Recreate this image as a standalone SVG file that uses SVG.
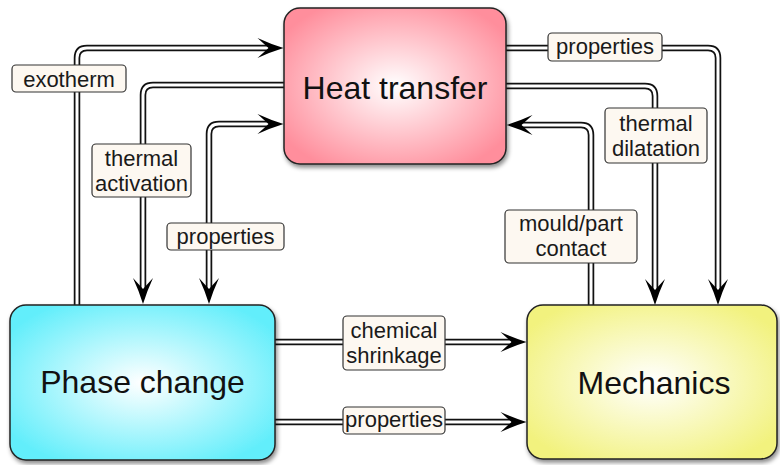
<svg xmlns="http://www.w3.org/2000/svg" width="780" height="465" viewBox="0 0 780 465">
<style>
.node rect{stroke:#222;stroke-width:1.5;filter:url(#sh)}
.node text{font-family:"Liberation Sans",Arial,Helvetica,sans-serif;font-size:32px;fill:#111;text-anchor:middle}
.outer{fill:none;stroke:#111;stroke-width:6.5}
.inner{fill:none;stroke:#fff;stroke-width:3}
.lbl rect{fill:#fdf8f1;stroke:#333;stroke-width:1.2}
.lbl text{font-family:"Liberation Sans",Arial,Helvetica,sans-serif;font-size:22px;fill:#1a1a1a;text-anchor:middle}
</style>
<defs>
<filter id="sh" x="-10%" y="-10%" width="125%" height="130%">
<feDropShadow dx="1.5" dy="3" stdDeviation="2" flood-color="#000" flood-opacity="0.45"/>
</filter>
<radialGradient id="gHeat" cx="50%" cy="50%" r="60%">
<stop offset="0" stop-color="#ffffff"/>
<stop offset="1" stop-color="#ff8e9c"/>
</radialGradient>
<radialGradient id="gPhase" cx="50%" cy="50%" r="60%">
<stop offset="0" stop-color="#ffffff"/>
<stop offset="1" stop-color="#62eefb"/>
</radialGradient>
<radialGradient id="gMech" cx="50%" cy="50%" r="60%">
<stop offset="0" stop-color="#ffffff"/>
<stop offset="1" stop-color="#f2f27e"/>
</radialGradient>
<marker id="arr" markerUnits="userSpaceOnUse" markerWidth="30" markerHeight="26" refX="11" refY="12" orient="auto-start-reverse" overflow="visible">
<path d="M26 12 Q13 8 0 2 L11 12 L0 22 Q13 16 26 12 Z" fill="#000"/>
</marker>
</defs>

<g id="connectors">
<g id="c-exotherm">
<path class="outer" d="M77 305 V58 Q77 48 87 48 H268.5"/>
<path class="inner" d="M77 305 V58 Q77 48 87 48 H268.5" marker-end="url(#arr)"/>
</g>
<g id="c-thermal-activation">
<path class="outer" d="M284 85 H153 Q143 85 143 95 V289"/>
<path class="inner" d="M284 85 H153 Q143 85 143 95 V289" marker-end="url(#arr)"/>
</g>
<g id="c-properties-left">
<path class="outer" d="M209 289 V134 Q209 124 219 124 H268.5"/>
<path class="inner" d="M209 289 V134 Q209 124 219 124 H268.5" marker-start="url(#arr)" marker-end="url(#arr)"/>
</g>
<g id="c-properties-right">
<path class="outer" d="M506 48 H708 Q718 48 718 58 V290"/>
<path class="inner" d="M506 48 H708 Q718 48 718 58 V290" marker-end="url(#arr)"/>
</g>
<g id="c-thermal-dilatation">
<path class="outer" d="M506 86 H645 Q655 86 655 96 V290"/>
<path class="inner" d="M506 86 H645 Q655 86 655 96 V290" marker-end="url(#arr)"/>
</g>
<g id="c-mould-contact">
<path class="outer" d="M591 305 V135 Q591 125 581 125 H521.5"/>
<path class="inner" d="M591 305 V135 Q591 125 581 125 H521.5" marker-end="url(#arr)"/>
</g>
<g id="c-chemical-shrinkage">
<path class="outer" d="M275 342 H511.5"/>
<path class="inner" d="M275 342 H511.5" marker-end="url(#arr)"/>
</g>
<g id="c-properties-bottom">
<path class="outer" d="M275 422 H511.5"/>
<path class="inner" d="M275 422 H511.5" marker-end="url(#arr)"/>
</g>
</g>

<g id="node-heat" class="node">
<rect x="284" y="8" width="222" height="156" rx="16" fill="url(#gHeat)"/>
<text x="395" y="99">Heat transfer</text>
</g>
<g id="node-phase" class="node">
<rect x="10" y="305" width="265" height="155" rx="16" fill="url(#gPhase)"/>
<text x="142.5" y="393">Phase change</text>
</g>
<g id="node-mech" class="node">
<rect x="527" y="305" width="250" height="154" rx="16" fill="url(#gMech)"/>
<text x="654" y="394">Mechanics</text>
</g>

<g id="labels">
<g class="lbl" id="lbl-exotherm">
<rect x="12" y="65" width="114" height="27" rx="4"/>
<text x="69" y="87">exotherm</text>
</g>
<g class="lbl" id="lbl-thermal-activation">
<rect x="92" y="144" width="99" height="53" rx="4"/>
<text x="141.5" y="166">thermal</text>
<text x="141.5" y="191">activation</text>
</g>
<g class="lbl" id="lbl-properties-left">
<rect x="167" y="223" width="117" height="27" rx="4"/>
<text x="225.5" y="244">properties</text>
</g>
<g class="lbl" id="lbl-properties-right">
<rect x="548" y="33" width="114" height="28" rx="4"/>
<text x="605" y="54">properties</text>
</g>
<g class="lbl" id="lbl-thermal-dilatation">
<rect x="605" y="108" width="102" height="55" rx="4"/>
<text x="656" y="131">thermal</text>
<text x="656" y="156">dilatation</text>
</g>
<g class="lbl" id="lbl-mould-contact">
<rect x="505" y="210" width="132" height="53" rx="4"/>
<text x="571" y="231">mould/part</text>
<text x="571" y="256">contact</text>
</g>
<g class="lbl" id="lbl-chemical-shrinkage">
<rect x="343" y="316" width="102" height="54" rx="4"/>
<text x="394" y="338">chemical</text>
<text x="394" y="363">shrinkage</text>
</g>
<g class="lbl" id="lbl-properties-bottom">
<rect x="343" y="407" width="102" height="27" rx="4"/>
<text x="394" y="427">properties</text>
</g>
</g>
</svg>
